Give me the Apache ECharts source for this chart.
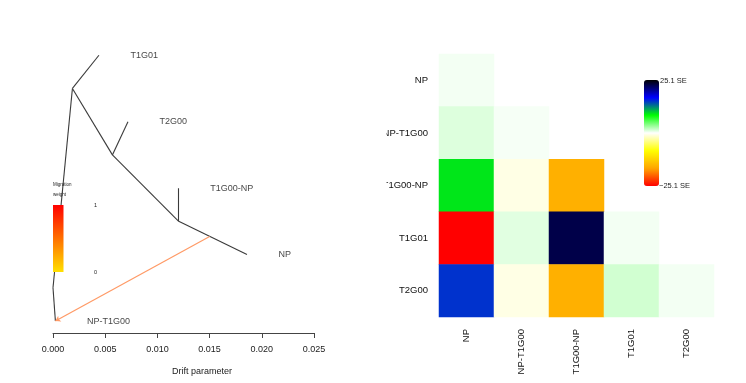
<!DOCTYPE html>
<html><head><meta charset="utf-8">
<script src="https://cdn.jsdelivr.net/npm/echarts@6/dist/echarts.min.js"></script>
<style>html,body{margin:0;padding:0;background:#fff}#c{width:746px;height:383px}</style>
</head><body><div id="c"></div>
<script>
// ---------- Tree (drift) data ----------
const leafNames  = ['T1G01', 'T2G00', 'T1G00-NP', 'NP', 'NP-T1G00'];
const leafDrift  = [0.0044, 0.00718, 0.01204, 0.01858, 0.00023];
const leafY      = [5, 4, 3, 2, 1];
const innerNames = ['root', 'A', 'B', 'C'];
const innerDrift = [0.0, 0.00186, 0.00569, 0.01204];
const innerY     = [1.5, 4.5, 3.5, 2.5];
const edgeFrom   = ['root', 'A', 'A', 'B', 'B', 'C', 'C', 'root'];
const edgeTo     = ['A', 'T1G01', 'B', 'T2G00', 'C', 'T1G00-NP', 'NP', 'NP-T1G00'];
// migration edge: starts on edge C->NP at given fraction, ends at leaf NP-T1G00
const migSourceEdge = ['C', 'NP'];
const migSourceFrac = [0.453];
const migTarget     = ['NP-T1G00'];
const driftMin = 0, driftMax = 0.025, driftStep = 0.005;

// ---------- Residual matrix (SE units) ----------
const pops = ['NP', 'NP-T1G00', 'T1G00-NP', 'T1G01', 'T2G00'];
const residNP       = [0.4];
const residNP_T1G00 = [1.1, 0.3];
const residT1G00_NP = [9.2, -0.85, -15.7];
const residT1G01    = [-25.1, 1.0, 22.7, 0.4];
const residT2G00    = [15.1, -0.85, -15.7, 1.5, 0.4];
const residMax = 25.1;

// ---------- build ----------
const node = {};
leafNames.forEach((n, i) => node[n] = [leafDrift[i], leafY[i]]);
innerNames.forEach((n, i) => node[n] = [innerDrift[i], innerY[i]]);
const treeEdges = edgeFrom.map((f, i) => ({coords: [node[f], node[edgeTo[i]]]}));
const s0 = node[migSourceEdge[0]], s1 = node[migSourceEdge[1]], fr = migSourceFrac[0];
const migStart = [s0[0] + (s1[0] - s0[0]) * fr, s0[1] + (s1[1] - s0[1]) * fr];
const migEdges = [{coords: [migStart, node[migTarget[0]]]}];
const leafPoints = leafNames.map((n, i) => ({name: n, value: [leafDrift[i], leafY[i]]}));

const residRows = [residNP, residNP_T1G00, residT1G00_NP, residT1G01, residT2G00];
const heatData = [];
residRows.forEach((row, r) => row.forEach((v, c) => heatData.push([c, r, v])));

const FONT = 'Liberation Sans, Arial, sans-serif';
const chart = echarts.init(document.getElementById('c'), null, {renderer: 'canvas'});
chart.setOption({
  animation: false,
  backgroundColor: '#fff',
  textStyle: {fontFamily: FONT},
  grid: [
    {left: 53, width: 261, top: 22, bottom: 50},
    {left: 439, width: 275, top: 54, height: 263}
  ],
  xAxis: [
    {type: 'value', gridIndex: 0, min: driftMin, max: driftMax, interval: driftStep,
     axisLine: {show: true, lineStyle: {color: '#444', width: 1}},
     axisTick: {show: true, length: 5, lineStyle: {color: '#444'}},
     axisLabel: {fontSize: 9, color: '#222', margin: 12, fontFamily: FONT,
                 formatter: v => v.toFixed(3)},
     splitLine: {show: false}},
    {type: 'category', gridIndex: 1, data: pops,
     axisLine: {show: false}, axisTick: {show: false},
     axisLabel: {rotate: 90, fontSize: 9.5, color: '#111', margin: 12, fontFamily: FONT},
     splitLine: {show: false}}
  ],
  yAxis: [
    {type: 'value', gridIndex: 0, min: 0.82, max: 5.5, show: false, splitLine: {show: false}},
    {type: 'category', gridIndex: 1, data: pops, inverse: true,
     axisLine: {show: false}, axisTick: {show: false},
     axisLabel: {fontSize: 9.5, color: '#111', margin: 11, fontFamily: FONT},
     splitLine: {show: false}}
  ],
  visualMap: {
    type: 'continuous', seriesIndex: 3, min: -residMax, max: residMax,
    calculable: false, orient: 'vertical', left: 644, top: 80,
    itemWidth: 15, itemHeight: 106, padding: 0, text: null, showLabel: false,
    inRange: {color: ['#ff0000', '#ffa500', '#ffff00', '#ffffff', '#00ff00', '#0000ff', '#000000']}
  },
  series: [
    {type: 'lines', coordinateSystem: 'cartesian2d', xAxisIndex: 0, yAxisIndex: 0,
     data: treeEdges, symbol: 'none', silent: true,
     lineStyle: {color: '#3a3a3a', width: 1.1, opacity: 1}},
    {type: 'lines', coordinateSystem: 'cartesian2d', xAxisIndex: 0, yAxisIndex: 0,
     data: migEdges, symbol: ['none', 'arrow'], symbolSize: 5, silent: true,
     lineStyle: {color: '#ff9a66', width: 1.2, opacity: 1}},
    {type: 'scatter', xAxisIndex: 0, yAxisIndex: 0, data: leafPoints,
     symbolSize: 1, itemStyle: {color: 'rgba(0,0,0,0)'}, silent: true,
     label: {show: true, position: 'right', distance: 31, formatter: p => p.name,
             fontSize: 9, color: '#111', fontFamily: FONT}},
    {type: 'heatmap', xAxisIndex: 1, yAxisIndex: 1, data: heatData, silent: true,
     itemStyle: {borderWidth: 0}}
  ],
  graphic: [
    {type: 'text', left: 172, top: 367, z: 100,
     style: {text: 'Drift parameter', fill: '#222', font: '9px ' + FONT}},
    {type: 'text', left: 53, top: 182, z: 100,
     style: {text: 'Migration', fill: '#222', font: '4.5px ' + FONT}},
    {type: 'text', left: 53, top: 192, z: 100,
     style: {text: 'weight', fill: '#222', font: '4.5px ' + FONT}},
    {type: 'rect', z: 100, shape: {x: 53, y: 205, width: 10.5, height: 67},
     style: {fill: new echarts.graphic.LinearGradient(0, 0, 0, 1,
       [{offset: 0, color: '#ff0000'}, {offset: 1, color: '#ffe000'}])}},
    {type: 'text', left: 94, top: 202, z: 100,
     style: {text: '1', fill: '#222', font: '5.5px ' + FONT}},
    {type: 'text', left: 94, top: 269, z: 100,
     style: {text: '0', fill: '#222', font: '5.5px ' + FONT}},
    {type: 'text', left: 660, top: 76.5, z: 100,
     style: {text: '25.1 SE', fill: '#222', font: '7.5px ' + FONT}},
    {type: 'text', left: 659, top: 182, z: 100,
     style: {text: '−25.1 SE', fill: '#222', font: '7.5px ' + FONT}},
    {type: 'rect', z: 100, shape: {x: 366, y: 100, width: 20.5, height: 100},
     style: {fill: '#fff'}}
  ]
});
</script>
</body></html>
